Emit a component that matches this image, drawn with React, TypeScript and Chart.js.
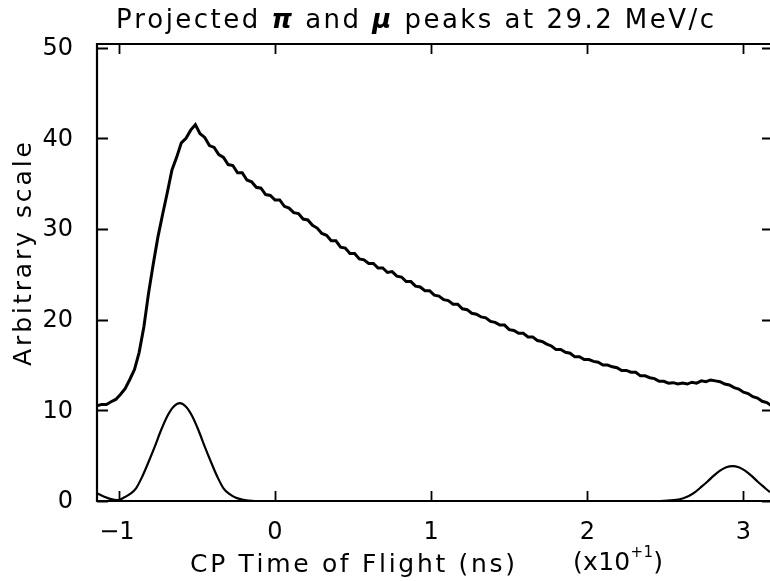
import React, { useEffect, useRef } from "react";
import { Chart, registerables } from "chart.js";
Chart.register(...registerables);

// Measured spectrum (x in units of 10 ns)
const mainX = [
  -1.14, -1.11, -1.08, -1.05, -1.02, -0.99, -0.96, -0.93, -0.9, -0.87, -0.84, -0.81, -0.78, -0.75, -0.72,
  -0.69, -0.66, -0.63, -0.6, -0.57, -0.54, -0.51, -0.48, -0.45, -0.42, -0.39, -0.36, -0.33, -0.3, -0.27,
  -0.24, -0.21, -0.18, -0.15, -0.12, -0.09, -0.06, -0.03, 0.0, 0.03, 0.06, 0.09, 0.12, 0.15, 0.18,
  0.21, 0.24, 0.27, 0.3, 0.33, 0.36, 0.39, 0.42, 0.45, 0.48, 0.51, 0.54, 0.57, 0.6, 0.63,
  0.66, 0.69, 0.72, 0.75, 0.78, 0.81, 0.84, 0.87, 0.9, 0.93, 0.96, 0.99, 1.02, 1.05, 1.08,
  1.11, 1.14, 1.17, 1.2, 1.23, 1.26, 1.29, 1.32, 1.35, 1.38, 1.41, 1.44, 1.47, 1.5, 1.53,
  1.56, 1.59, 1.62, 1.65, 1.68, 1.71, 1.74, 1.77, 1.8, 1.83, 1.86, 1.89, 1.92, 1.95, 1.98,
  2.01, 2.04, 2.07, 2.1, 2.13, 2.16, 2.19, 2.22, 2.25, 2.28, 2.31, 2.34, 2.37, 2.4, 2.43,
  2.46, 2.49, 2.52, 2.55, 2.58, 2.61, 2.64, 2.67, 2.7, 2.73, 2.76, 2.79, 2.82, 2.85, 2.88,
  2.91, 2.94, 2.97, 3.0, 3.03, 3.06, 3.09, 3.12, 3.15, 3.18,
];
const mainY = [
  10.5, 10.65, 10.65, 10.95, 11.2, 11.75, 12.4, 13.4, 14.5, 16.4, 19.2, 22.9, 26.1, 29.1, 31.6,
  34.0, 36.5, 37.9, 39.5, 40.0, 40.9, 41.5, 40.5, 40.1, 39.2, 39.0, 38.2, 37.9, 37.1, 37.0,
  36.2, 36.2, 35.4, 35.2, 34.6, 34.5, 33.8, 33.7, 33.2, 33.2, 32.5, 32.3, 31.8, 31.7, 31.1,
  31.0, 30.4, 30.1, 29.5, 29.3, 28.7, 28.7, 28.0, 27.9, 27.3, 27.3, 26.7, 26.6, 26.2, 26.2,
  25.7, 25.7, 25.2, 25.3, 24.8, 24.7, 24.2, 24.2, 23.7, 23.6, 23.2, 23.2, 22.7, 22.6, 22.2,
  22.1, 21.7, 21.7, 21.2, 21.1, 20.7, 20.6, 20.3, 20.2, 19.8, 19.7, 19.4, 19.4, 18.9, 18.8,
  18.5, 18.5, 18.1, 18.1, 17.7, 17.6, 17.3, 17.1, 16.7, 16.7, 16.4, 16.3, 15.9, 15.9, 15.6,
  15.6, 15.4, 15.3, 15.0, 15.0, 14.8, 14.7, 14.4, 14.4, 14.2, 14.2, 13.8, 13.8, 13.6, 13.5,
  13.2, 13.2, 13.0, 13.05, 12.9, 13.0, 12.9, 13.1, 13.0, 13.25, 13.15, 13.35, 13.25, 13.15, 12.9,
  12.8, 12.5, 12.35, 12.0, 11.85, 11.5, 11.35, 11.0, 10.85, 10.5,
];

// Projected pi peak
const piX = [
  -1.14, -1.09, -1.05, -1.01, -0.97, -0.93, -0.89, -0.85, -0.81, -0.77, -0.73, -0.69, -0.65,
  -0.61, -0.57, -0.53, -0.49, -0.45, -0.41, -0.37, -0.33, -0.29, -0.25, -0.21, -0.17, -0.13,
];
const piY = [
  0.85, 0.45, 0.2, 0.1, 0.35, 0.75, 1.4, 2.7, 4.3, 6.0, 7.8, 9.35, 10.4,
  10.8, 10.4, 9.35, 7.8, 6.0, 4.3, 2.7, 1.4, 0.75, 0.35, 0.15, 0.05, 0,
];

// Projected mu peak
const muX = [
  2.45, 2.49, 2.53, 2.57, 2.61, 2.65, 2.69, 2.73, 2.77, 2.81, 2.85, 2.89, 2.93,
  2.97, 3.01, 3.05, 3.09, 3.13, 3.17, 3.21,
];
const muY = [
  0, 0.02, 0.06, 0.13, 0.28, 0.55, 0.98, 1.55, 2.15, 2.8, 3.35, 3.72, 3.85,
  3.72, 3.35, 2.8, 2.15, 1.55, 0.98, 0.55,
];

const xTicks = [-1, 0, 1, 2, 3];
const xTickLabels = ["\u22121", "0", "1", "2", "3"];
const yTicks = [0, 10, 20, 30, 40, 50];
const yTickLabels = ["0", "10", "20", "30", "40", "50"];

const X_MIN = -1.14;
const X_MAX = 3.17;
const Y_MIN = 0;
const Y_MAX = 50.4;

const FAMILY = '"DejaVu Sans", sans-serif';

type Seg = { t: string; font: string; dy?: number };

function drawFitted(ctx: CanvasRenderingContext2D, segs: Seg[], x0: number, x1: number, y: number) {
  let natural = 0;
  let n = 0;
  for (const s of segs) {
    ctx.font = s.font;
    for (const ch of s.t) {
      natural += ctx.measureText(ch).width;
      n++;
    }
  }
  const spacing = n > 1 ? (x1 - x0 - natural) / (n - 1) : 0;
  let x = x0;
  ctx.textAlign = "left";
  ctx.textBaseline = "alphabetic";
  for (const s of segs) {
    ctx.font = s.font;
    for (const ch of s.t) {
      ctx.fillText(ch, x, y + (s.dy || 0));
      x += ctx.measureText(ch).width + spacing;
    }
  }
}

const framePlugin = {
  id: "framePlugin",
  afterDraw(chart: any) {
    const ctx: CanvasRenderingContext2D = chart.ctx;
    const { left, right, top, bottom } = chart.chartArea;
    const xs = chart.scales.x;
    const ys = chart.scales.y;
    ctx.save();
    ctx.strokeStyle = "#000";
    ctx.fillStyle = "#000";
    ctx.lineWidth = 2.2;
    ctx.beginPath();
    ctx.moveTo(right, top);
    ctx.lineTo(left, top);
    ctx.lineTo(left, bottom);
    ctx.lineTo(right, bottom);
    ctx.stroke();

    ctx.lineWidth = 1.8;
    ctx.beginPath();
    xTicks.forEach((v) => {
      const px = Math.round(xs.getPixelForValue(v)) + 0.5;
      ctx.moveTo(px, bottom);
      ctx.lineTo(px, bottom - 10);
      ctx.moveTo(px, top);
      ctx.lineTo(px, top + 10);
    });
    yTicks.forEach((v) => {
      const py = Math.round(ys.getPixelForValue(v)) + 0.5;
      ctx.moveTo(left, py);
      ctx.lineTo(left + 11, py);
      ctx.moveTo(right, py);
      ctx.lineTo(right - 8, py);
    });
    ctx.stroke();

    // tick labels
    ctx.font = `24px ${FAMILY}`;
    ctx.textBaseline = "middle";
    ctx.textAlign = "center";
    xTicks.forEach((v, i) => {
      const px = xs.getPixelForValue(v);
      ctx.fillText(xTickLabels[i], px - (i === 0 ? 2 : 0), 533);
    });
    ctx.textAlign = "right";
    yTicks.forEach((v, i) => {
      const py = ys.getPixelForValue(v);
      ctx.fillText(yTickLabels[i], 73, py + 1);
    });

    // title
    const nf = `26px ${FAMILY}`;
    const bf = `italic bold 26px ${FAMILY}`;
    drawFitted(
      ctx,
      [
        { t: "Projected ", font: nf },
        { t: "\u03c0", font: bf },
        { t: " and ", font: nf },
        { t: "\u03bc", font: bf },
        { t: " peaks at 29.2 MeV/c", font: nf },
      ],
      116,
      714,
      28
    );

    // x axis title
    const af = `25px ${FAMILY}`;
    drawFitted(ctx, [{ t: "CP Time of Flight (ns)", font: af }], 190, 515, 572);
    drawFitted(
      ctx,
      [
        { t: "(x10", font: af },
        { t: "+1", font: `15px ${FAMILY}`, dy: -13 },
        { t: ")", font: af },
      ],
      573,
      663,
      570
    );

    // y axis title
    ctx.save();
    ctx.translate(31, 0);
    ctx.rotate(-Math.PI / 2);
    drawFitted(ctx, [{ t: "Arbitrary scale", font: af }], -366, -142, 0);
    ctx.restore();

    ctx.restore();
  },
};

export default function App() {
  const ref = useRef<HTMLCanvasElement | null>(null);
  useEffect(() => {
    document.body.style.margin = "0";
    const canvas = ref.current;
    if (!canvas) return;
    const peaks = [
      ...piX.map((x, i) => ({ x, y: piY[i] })),
      ...muX.map((x, i) => ({ x, y: muY[i] })),
    ];
    const chart = new Chart(canvas, {
      type: "line",
      data: {
        datasets: [
          {
            label: "Measured",
            data: mainX.map((x, i) => ({ x, y: mainY[i] })),
            borderColor: "#000",
            borderWidth: 3,
            pointRadius: 0,
            tension: 0,
            fill: false,
          },
          {
            label: "Projected peaks",
            data: peaks,
            borderColor: "#000",
            borderWidth: 2.2,
            pointRadius: 0,
            cubicInterpolationMode: "monotone",
            fill: false,
          },
        ],
      },
      options: {
        animation: false,
        responsive: false,
        devicePixelRatio: 1,
        layout: { padding: { left: 97, top: 44, right: 0, bottom: 80 } },
        plugins: { legend: { display: false }, tooltip: { enabled: false }, title: { display: false } },
        scales: {
          x: { type: "linear", min: X_MIN, max: X_MAX, display: false },
          y: { type: "linear", min: Y_MIN, max: Y_MAX, display: false },
        },
      },
      plugins: [framePlugin],
    } as any);
    return () => chart.destroy();
  }, []);
  return (
    <div style={{ width: 770, height: 581, background: "#fff" }}>
      <canvas ref={ref} width={770} height={581} style={{ display: "block" }} />
    </div>
  );
}
